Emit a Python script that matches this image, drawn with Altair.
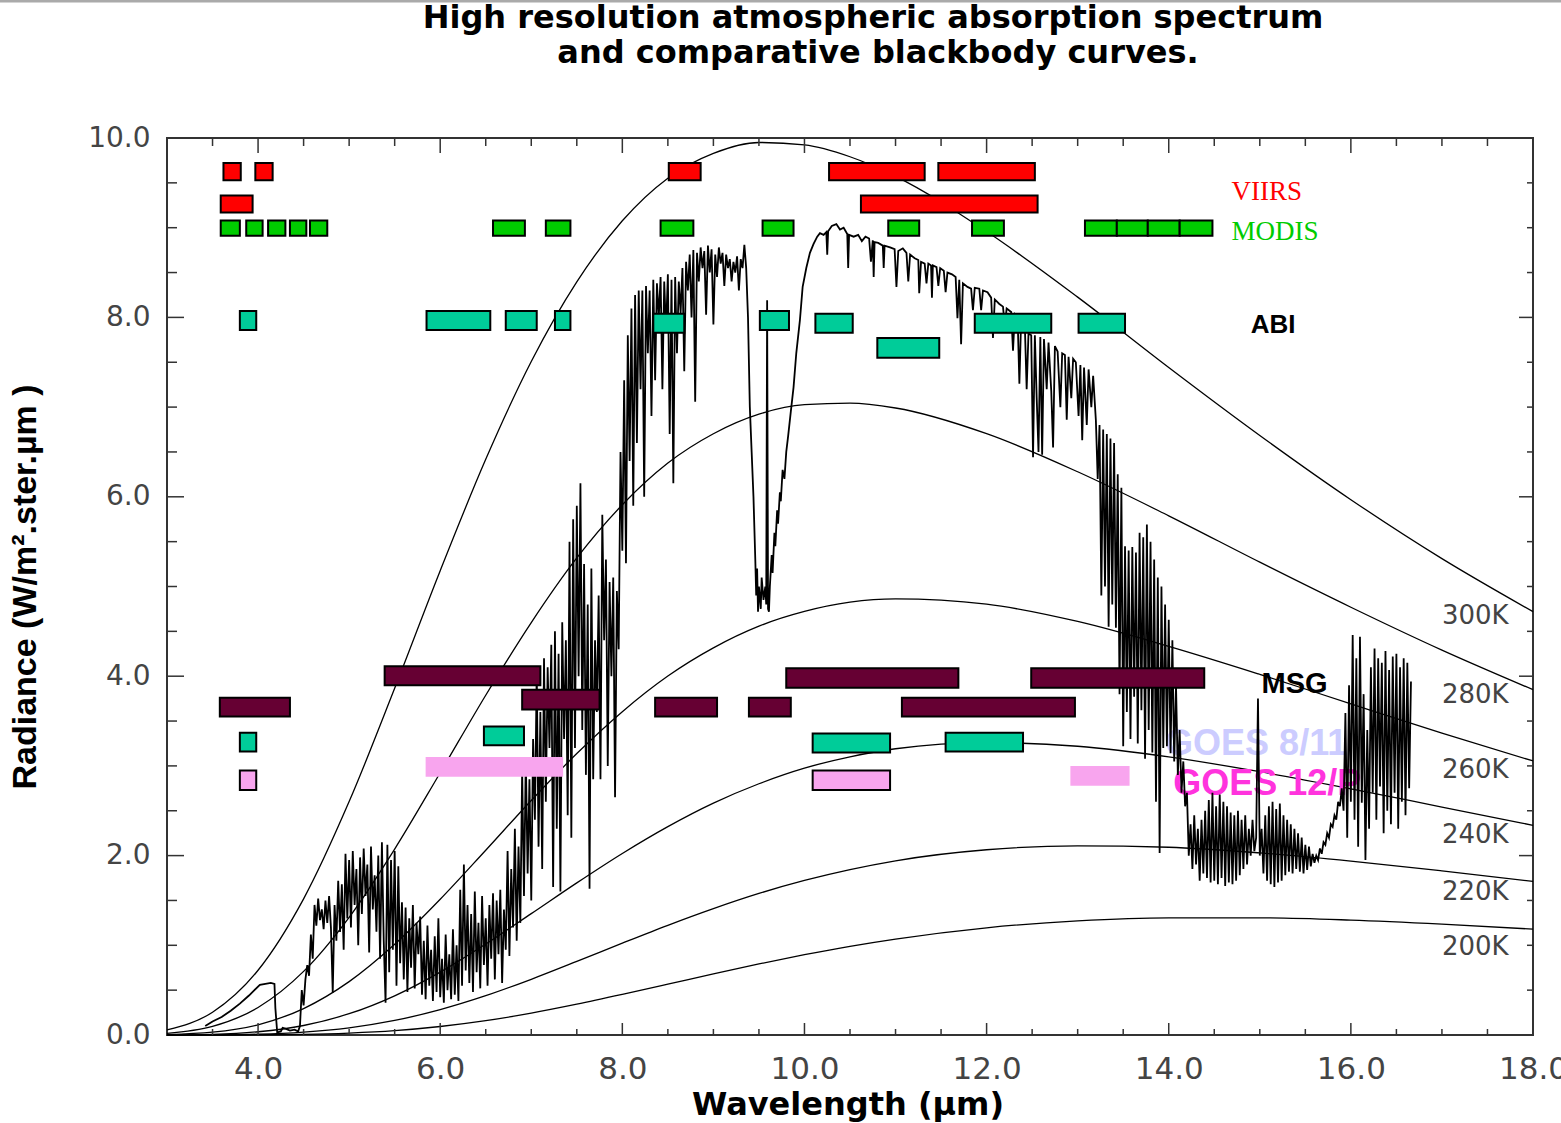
import altair as alt
import pandas as pd

# ---------------- blackbody radiance curves (W / m^2 / sr / um) ----------------
BB_WL = [3.0, 3.5, 4.0, 4.5, 5.0, 5.5, 6.0, 6.5, 7.0, 7.5, 8.0, 8.5, 9.0, 9.5,
         10.0, 10.5, 11.0, 12.0, 13.0, 14.0, 15.0, 16.0, 17.0, 18.0]
BB_300 = [0.056, 0.254, 0.722, 1.518, 2.602, 3.865, 5.176, 6.418, 7.508, 8.396, 9.077, 9.552,
          9.829, 9.950, 9.923, 9.791, 9.572, 8.957, 8.226, 7.442, 6.684, 5.968, 5.311, 4.720]
BB_280 = [0.018, 0.095, 0.307, 0.709, 1.312, 2.073, 2.924, 3.788, 4.598, 5.318, 5.911, 6.376,
          6.703, 6.921, 7.027, 7.044, 6.990, 6.704, 6.279, 5.788, 5.271, 4.769, 4.291, 3.850]
BB_260 = [0.005, 0.031, 0.114, 0.295, 0.595, 1.011, 1.513, 2.060, 2.615, 3.138, 3.605, 4.002,
          4.316, 4.558, 4.722, 4.825, 4.862, 4.803, 4.610, 4.333, 4.021, 3.692, 3.366, 3.055]
BB_240 = [0.001, 0.008, 0.036, 0.106, 0.237, 0.437, 0.701, 1.014, 1.353, 1.696, 2.024, 2.323,
          2.585, 2.801, 2.975, 3.101, 3.191, 3.260, 3.219, 3.101, 2.935, 2.745, 2.541, 2.338]
BB_220 = [0.000, 0.002, 0.009, 0.032, 0.080, 0.162, 0.283, 0.438, 0.621, 0.820, 1.024, 1.223,
          1.409, 1.578, 1.723, 1.844, 1.942, 2.065, 2.109, 2.093, 2.030, 1.939, 1.830, 1.712]
BB_200 = [0.000, 0.000, 0.002, 0.007, 0.022, 0.049, 0.095, 0.160, 0.244, 0.343, 0.452, 0.566,
          0.682, 0.792, 0.895, 0.989, 1.070, 1.195, 1.272, 1.306, 1.306, 1.281, 1.236, 1.180]
BB_CURVES = {"300K": BB_300, "280K": BB_280, "260K": BB_260,
             "240K": BB_240, "220K": BB_220, "200K": BB_200}

# labels at the right-hand end of each curve (wavelength, radiance of baseline)
TEMP_LABELS = ["300K", "280K", "260K", "240K", "220K", "200K"]
TEMP_LABEL_Y = [4.58, 3.70, 2.87, 2.14, 1.51, 0.89]
TEMP_LABEL_X = 17.0

# ---------------- high resolution atmospheric spectrum ----------------
# shortwave end: 4.3 um band shoulder and CO2 gap, (wavelength, radiance)
SHORTWAVE = [(3.42, 0.10), (3.50, 0.15), (3.60, 0.20), (3.70, 0.27), (3.80, 0.35), (3.90, 0.44),
             (3.96, 0.50), (4.02, 0.56), (4.08, 0.57), (4.14, 0.58), (4.18, 0.57), (4.19, 0.30),
             (4.21, 0.03), (4.25, 0.04), (4.27, 0.08), (4.30, 0.07), (4.35, 0.05), (4.40, 0.06),
             (4.44, 0.04), (4.46, 0.10), (4.48, 0.50), (4.50, 0.33), (4.52, 0.62), (4.54, 0.78),
             (4.56, 0.66), (4.58, 1.12), (4.60, 0.85)]

GRID_STEP = 0.02
# water vapour band, sampled every 0.02 um from 4.62 um to 9.34 um
GRID_A_START = 4.62
GRID_A_RAD = [
    1.45, 1.22, 1.52, 1.28, 1.40,  1.18, 1.50, 1.25, 1.55, 1.20,
    0.47, 1.45, 1.05, 1.72, 1.15,  1.68, 0.95, 2.02, 1.30, 1.95,
    1.20, 2.05, 1.45, 1.85, 1.00,  1.98, 1.35, 2.08, 1.55, 1.90,
    0.92, 2.10, 1.40, 1.78, 1.15,  2.00, 0.85, 2.15, 1.05, 0.36,
    2.12, 0.70, 1.95, 0.95, 2.05,  0.55, 1.88, 0.80, 1.48, 0.62,
    1.42, 0.48, 1.30, 0.75, 1.45,  0.52, 1.25, 0.90, 1.32, 0.45,
    1.05, 0.40, 1.22, 0.55, 0.95,  0.38, 1.10, 0.48, 1.30, 0.42,
    0.85, 0.36, 1.12, 0.50, 0.90,  0.40, 1.18, 0.45, 1.00, 0.38,
    1.62, 0.55, 1.90, 0.72, 1.45,  0.58, 1.35, 0.48, 1.60, 0.70,
    1.25, 0.52, 1.55, 0.78, 1.30,  0.55, 1.45, 0.85, 1.58, 0.62,
    1.50, 0.90, 1.62, 0.58, 1.40,  0.95, 2.05, 0.88, 1.85, 1.20,
    2.30, 1.05, 2.10, 1.25, 2.95,  1.55, 3.10, 1.80, 2.85, 1.50,
    3.30, 2.40, 4.05, 2.10, 3.60,  1.85, 4.20, 2.60, 4.10, 3.20,
    4.35, 1.65, 4.50, 2.30, 4.25,  1.60, 4.60, 3.30, 4.40, 2.45,
    5.50, 2.20, 5.75, 3.20, 5.90,  4.00, 6.15, 3.40, 5.25, 2.90,
    4.80, 1.63, 5.20, 2.85, 4.40,  3.60, 4.90, 2.85, 5.80, 4.40,
    5.30, 3.00, 5.05, 4.00, 5.10,  2.65, 4.95, 4.30, 6.50, 5.40,
    7.30, 5.26, 7.80, 6.40, 8.10,  5.90, 8.25, 6.60, 8.30, 7.20,
    8.30, 6.00, 8.35, 7.60, 8.30,  6.90, 8.42, 7.30, 8.38, 8.00,
    8.45, 7.20, 8.40, 7.85, 8.48,  6.70, 8.42, 6.15, 8.45, 7.60,
    8.40, 8.05, 8.55, 7.40, 8.62,  8.30, 8.70, 8.00, 8.75, 7.06,
    8.72, 8.40, 8.78, 8.55, 8.74,  8.03, 8.80, 8.50, 8.76, 7.92,
    8.70, 8.45, 8.78, 8.60, 8.72,  8.35, 8.70, 8.55, 8.65, 8.40,
    8.62, 8.50, 8.68, 8.30, 8.65,  8.55, 8.81,
]

# ozone band around 9.6 um
OZONE = [(9.36, 8.55), (9.38, 8.00), (9.40, 7.00), (9.42, 6.50), (9.44, 6.00), (9.46, 5.30),
         (9.47, 4.90), (9.48, 5.20), (9.49, 4.72), (9.50, 5.00), (9.52, 4.75), (9.53, 5.10),
         (9.55, 4.85), (9.57, 5.00), (9.58, 4.80), (9.59, 8.19), (9.60, 4.75), (9.61, 4.72),
         (9.62, 5.00), (9.64, 5.35), (9.65, 5.15), (9.67, 5.60), (9.68, 5.45), (9.70, 5.85),
         (9.71, 5.70), (9.73, 6.05), (9.74, 5.95), (9.76, 6.30), (9.78, 6.20), (9.80, 6.50),
         (9.82, 6.67), (9.85, 6.95), (9.88, 7.22), (9.91, 7.60), (9.95, 7.97), (9.98, 8.34),
         (10.02, 8.55), (10.06, 8.72)]

# infrared window, 10 - 13 um
WINDOW = [(10.10, 8.82), (10.14, 8.90), (10.17, 8.94), (10.21, 8.92), (10.24, 8.95), (10.25, 8.70),
          (10.26, 8.96), (10.30, 9.02), (10.35, 9.04), (10.39, 8.98), (10.43, 9.00), (10.47, 8.93),
          (10.48, 8.55), (10.49, 8.92), (10.54, 8.90), (10.59, 8.92), (10.63, 8.85), (10.67, 8.90),
          (10.71, 8.88), (10.73, 8.62), (10.75, 8.86), (10.76, 8.45), (10.77, 8.84), (10.81, 8.83),
          (10.86, 8.80), (10.87, 8.55), (10.88, 8.80), (10.94, 8.78), (10.99, 8.76), (11.01, 8.34),
          (11.03, 8.74), (11.08, 8.77), (11.12, 8.72), (11.14, 8.40), (11.16, 8.70), (11.21, 8.66),
          (11.25, 8.64), (11.26, 8.27), (11.28, 8.62), (11.32, 8.60), (11.34, 8.38), (11.36, 8.60),
          (11.39, 8.58), (11.40, 8.22), (11.41, 8.58), (11.45, 8.56), (11.47, 8.35), (11.49, 8.55),
          (11.53, 8.52), (11.55, 8.28), (11.57, 8.50), (11.62, 8.48), (11.66, 8.45), (11.68, 7.99),
          (11.70, 8.42), (11.72, 7.70), (11.74, 8.38), (11.79, 8.34), (11.83, 8.32), (11.85, 8.08),
          (11.87, 8.33), (11.92, 8.32), (11.94, 8.08), (11.96, 8.30), (12.01, 8.28), (12.05, 8.22),
          (12.07, 7.77), (12.09, 8.20), (12.14, 8.15), (12.18, 8.12), (12.20, 7.90), (12.22, 8.10),
          (12.27, 8.06), (12.29, 7.63), (12.31, 8.04), (12.34, 8.02), (12.36, 7.26), (12.38, 8.00),
          (12.42, 7.90), (12.44, 7.20), (12.46, 7.82), (12.49, 7.80), (12.51, 6.44), (12.53, 7.80),
          (12.55, 7.10), (12.57, 6.50), (12.59, 7.78), (12.61, 6.47), (12.63, 7.76), (12.66, 7.20),
          (12.68, 7.72), (12.71, 7.18), (12.73, 6.55), (12.75, 7.68), (12.78, 7.62), (12.81, 7.00),
          (12.83, 7.60), (12.86, 7.58), (12.88, 6.86), (12.90, 7.56), (12.93, 7.10), (12.95, 7.54),
          (12.98, 7.50), (13.01, 6.90), (13.03, 7.47), (13.05, 6.63), (13.07, 7.44), (13.10, 6.80),
          (13.12, 7.42), (13.15, 7.00), (13.17, 7.35)]

# CO2 band, sampled every 0.02 um from 13.20 um to 16.66 um
GRID_B_START = 13.20
GRID_B_RAD = [
    6.85, 6.20, 6.80, 4.90, 6.75,  5.00, 6.70, 4.55, 6.65, 4.80,
    6.60, 4.54, 6.25, 3.80, 6.10,  3.22, 5.45, 3.60, 5.40, 3.30,
    5.44, 3.77, 5.38, 3.25, 5.60,  3.62, 5.55, 3.08, 5.69, 3.40,
    5.50, 3.15, 5.30, 2.60, 5.10,  2.03, 5.00, 3.20, 4.80, 3.22,
    4.63, 3.14, 4.40, 3.05, 3.90,  2.90, 3.40, 2.70, 3.05, 2.55,
    2.70,
    2.00, 2.35, 1.85, 2.45, 1.90,  2.30, 1.72, 2.40, 1.80, 2.50,
    1.75, 2.62, 1.70, 2.70, 1.72,  2.55, 1.68, 2.68, 1.75, 2.60,
    1.66, 2.55, 1.70, 2.48, 1.68,  2.45, 1.72, 2.50, 1.78, 2.40,
    1.85, 2.45, 1.90, 2.30, 2.00,  2.40, 2.05, 2.20, 3.75, 2.00,
    2.30, 1.80, 2.45, 1.72, 2.55,  1.68, 2.60, 1.65, 2.52, 1.70,
    2.58, 1.72, 2.45, 1.78, 2.40,  1.82, 2.35, 1.80, 2.30, 1.85,
    2.25, 1.82, 2.20, 1.80, 2.12,  1.84, 2.10, 1.88, 2.02, 1.92,
    2.00, 1.95, 2.08, 2.02, 2.15,  2.12, 2.25, 2.20, 2.35, 2.32,
    2.45, 2.40, 2.60, 2.55, 2.75,
    2.50, 3.59, 2.20, 3.90, 2.60,  4.46, 2.40, 4.20, 2.10, 4.44,
    2.59, 3.80, 1.95, 3.40, 2.30,  4.10, 2.70, 4.31, 2.40, 4.20,
    2.77, 4.15, 2.25, 4.28, 2.50,  4.07, 2.35, 4.22, 2.70, 4.25,
    2.30, 4.10, 2.60, 4.20, 2.45,  4.15, 2.75, 3.94,
]

# ---------------- instrument bands: (from um, to um, low, high) ----------------
VIIRS_BANDS = [(3.62, 3.81, 9.53, 9.72), (3.97, 4.16, 9.53, 9.72), (8.51, 8.86, 9.53, 9.72),
               (10.27, 11.32, 9.53, 9.72), (11.47, 12.53, 9.53, 9.72),
               (3.59, 3.94, 9.17, 9.36), (10.62, 12.56, 9.17, 9.36)]
MODIS_BANDS = [(3.59, 3.80, 8.91, 9.08), (3.87, 4.05, 8.91, 9.08), (4.11, 4.30, 8.91, 9.08),
               (4.35, 4.53, 8.91, 9.08), (4.57, 4.76, 8.91, 9.08), (6.58, 6.93, 8.91, 9.08),
               (7.16, 7.43, 8.91, 9.08), (8.42, 8.78, 8.91, 9.08), (9.54, 9.88, 8.91, 9.08),
               (10.92, 11.26, 8.91, 9.08), (11.84, 12.19, 8.91, 9.08), (13.08, 13.43, 8.91, 9.08),
               (13.43, 13.77, 8.91, 9.08), (13.77, 14.12, 8.91, 9.08), (14.12, 14.48, 8.91, 9.08)]
ABI_BANDS = [(3.80, 3.98, 7.86, 8.07), (5.85, 6.55, 7.86, 8.07), (6.72, 7.06, 7.86, 8.07),
             (7.26, 7.43, 7.86, 8.07), (8.34, 8.68, 7.83, 8.04), (9.51, 9.83, 7.86, 8.07),
             (10.12, 10.53, 7.83, 8.04), (11.87, 12.71, 7.83, 8.04), (13.01, 13.52, 7.83, 8.04),
             (10.80, 11.48, 7.55, 7.77)]
MSG_BANDS = [(5.39, 7.10, 3.90, 4.11), (6.90, 7.75, 3.63, 3.85), (3.58, 4.35, 3.55, 3.76),
             (8.36, 9.04, 3.55, 3.76), (9.39, 9.85, 3.55, 3.76), (9.80, 11.69, 3.87, 4.09),
             (11.07, 12.97, 3.55, 3.76), (12.49, 14.39, 3.87, 4.09)]
GOES811_BANDS = [(3.80, 3.98, 3.16, 3.37), (6.48, 6.92, 3.23, 3.44),
                 (10.09, 10.94, 3.15, 3.36), (11.55, 12.40, 3.16, 3.37)]
GOES12P_OUTLINED = [(3.80, 3.98, 2.73, 2.95), (10.09, 10.94, 2.73, 2.95)]
GOES12P_PLAIN = [(5.84, 7.35, 2.88, 3.10), (12.92, 13.57, 2.78, 3.00)]

COLORS = {"VIIRS": "#ff0000", "MODIS": "#00cc00", "ABI": "#00cc99", "MSG": "#660033",
          "GOES811": "#00cc99", "GOES12P": "#f8a5ee"}

# ---------------- geometry of the plot frame ----------------
W, H = 1366, 897
FRAME = "#333333"

xs = alt.Scale(domain=[3, 18], nice=False, zero=False)
ys = alt.Scale(domain=[0, 10], nice=False, zero=False)
x_axis = alt.Axis(values=[4, 6, 8, 10, 12, 14, 16, 18], format=".1f", ticks=False, domain=False,
                  grid=False, labelFont="DejaVu Sans", labelFontSize=31, labelColor="#444444",
                  labelPadding=19, labelFlush=False, labelOverlap=False, title=None)
y_axis = alt.Axis(values=[0, 2, 4, 6, 8, 10], format=".1f", ticks=False, domain=False,
                  grid=False, labelFont="DejaVu Sans", labelFontSize=28, labelColor="#444444",
                  labelPadding=17, labelFlush=False, labelOverlap=False, title=None)


def X(field):
    return alt.X(field, type="quantitative", scale=xs, axis=x_axis)


def Y(field):
    return alt.Y(field, type="quantitative", scale=ys, axis=y_axis)


def grid(start, values):
    return [round(start + i * GRID_STEP, 2) for i in range(len(values))]


# ---------------- tables ----------------
curves = pd.DataFrame(
    [{"temp": t, "wl": w, "rad": r} for t, vals in BB_CURVES.items() for w, r in zip(BB_WL, vals)]
)

sw_wl, sw_rad = zip(*SHORTWAVE)
oz_wl, oz_rad = zip(*OZONE)
win_wl, win_rad = zip(*WINDOW)
spectrum = pd.DataFrame({
    "wl": list(sw_wl) + grid(GRID_A_START, GRID_A_RAD) + list(oz_wl) + list(win_wl)
          + grid(GRID_B_START, GRID_B_RAD),
    "rad": list(sw_rad) + GRID_A_RAD + list(oz_rad) + list(win_rad) + GRID_B_RAD,
})

band_rows = []
for name, bands, outline in [("VIIRS", VIIRS_BANDS, 2), ("MODIS", MODIS_BANDS, 2),
                             ("ABI", ABI_BANDS, 2), ("MSG", MSG_BANDS, 2),
                             ("GOES811", GOES811_BANDS, 2), ("GOES12P", GOES12P_OUTLINED, 2),
                             ("GOES12P", GOES12P_PLAIN, 0)]:
    for x1, x2, y1, y2 in bands:
        band_rows.append({"x1": x1, "x2": x2, "y1": y1, "y2": y2,
                          "fill": COLORS[name], "sw": outline})
bands_df = pd.DataFrame(band_rows)

temp_df = pd.DataFrame({"label": TEMP_LABELS, "x": TEMP_LABEL_X, "y": TEMP_LABEL_Y})
one = pd.DataFrame({"k": [0]})

# ---------------- layers ----------------
top_line = alt.Chart(one).mark_rule(color="#aaaaaa", strokeWidth=3).encode(
    x=alt.value(-167), x2=alt.value(W + 28), y=alt.value(-137))

bb_layer = alt.Chart(curves).mark_line(color="black", strokeWidth=1.3, interpolate="monotone").encode(
    x=X("wl"), y=Y("rad"), detail="temp:N")


def label(text, x, y, color, size, font="Liberation Sans", weight="bold"):
    df = pd.DataFrame({"t": [text], "x": [x], "y": [y]})
    return alt.Chart(df).mark_text(align="left", baseline="alphabetic", font=font,
                                   fontWeight=weight, fontSize=size, color=color).encode(
        x=X("x"), y=Y("y"), text="t:N")


goes811_lbl = label("GOES 8/11", 13.96, 3.12, "#ccccff", 36)
goes12p_lbl = label("GOES 12/P", 14.05, 2.68, "#ff33dd", 36)

spec_layer = alt.Chart(spectrum).mark_line(color="black", strokeWidth=1.8).encode(
    x=X("wl"), y=Y("rad"))

bands_layer = alt.Chart(bands_df).mark_rect(stroke="black").encode(
    x=X("x1"), x2="x2", y=Y("y1"), y2="y2",
    fill=alt.Fill("fill:N", scale=None),
    strokeWidth=alt.StrokeWidth("sw:Q", scale=None))

viirs_lbl = label("VIIRS", 14.69, 9.31, "#ff0000", 27, font="Liberation Serif", weight="normal")
modis_lbl = label("MODIS", 14.69, 8.86, "#00cc00", 27, font="Liberation Serif", weight="normal")
abi_lbl = label("ABI", 14.90, 7.83, "black", 26)
msg_lbl = label("MSG", 15.02, 3.81, "black", 29)

temp_layer = alt.Chart(temp_df).mark_text(align="left", baseline="alphabetic", font="DejaVu Sans",
                                          fontSize=26, color="#444444").encode(
    x=X("x"), y=Y("y"), text="label:N")

# inward tick marks on all four sides of the frame
MAJOR_X = [4, 6, 8, 10, 12, 14, 16]
MINOR_X = [h / 2 for h in range(7, 36) if (h / 2) not in MAJOR_X]
MAJOR_Y = [2, 4, 6, 8]
MINOR_Y = [h / 2 for h in range(1, 20) if (h / 2) not in MAJOR_Y]


def xticks(vals, y0, y1):
    return alt.Chart(pd.DataFrame({"v": vals})).mark_rule(color=FRAME, strokeWidth=1.5).encode(
        x=X("v"), y=alt.value(y0), y2=alt.value(y1))


def yticks(vals, x0, x1):
    return alt.Chart(pd.DataFrame({"v": vals})).mark_rule(color=FRAME, strokeWidth=1.5).encode(
        y=Y("v"), x=alt.value(x0), x2=alt.value(x1))


ticks = [
    xticks(MINOR_X, H, H - 6), xticks(MAJOR_X, H, H - 12),
    xticks(MINOR_X, 0, 8), xticks(MAJOR_X, 0, 15),
    yticks(MINOR_Y, 0, 10), yticks(MAJOR_Y, 0, 17),
    yticks(MINOR_Y, W, W - 6), yticks(MAJOR_Y, W, W - 14),
]


def free_text(text, x, y, size, font, weight="bold", angle=0, color="black"):
    kw = dict(align="center", baseline="alphabetic", font=font, fontWeight=weight,
              fontSize=size, color=color)
    if angle:
        kw["angle"] = angle
    return alt.Chart(pd.DataFrame({"t": [text]})).mark_text(**kw).encode(
        x=alt.value(x), y=alt.value(y), text="t:N")


title1 = free_text("High resolution atmospheric absorption spectrum", 706, -110, 32, "DejaVu Sans")
title2 = free_text("and comparative blackbody curves.", 711, -75, 32, "DejaVu Sans")
x_title = free_text("Wavelength (µm)", 681, 977, 32, "DejaVu Sans")
y_title = free_text("Radiance (W/m².ster.µm )", -131, 449, 34, "Liberation Sans", angle=270)

chart = alt.layer(
    top_line, bb_layer, goes811_lbl, goes12p_lbl, spec_layer, bands_layer,
    viirs_lbl, modis_lbl, abi_lbl, msg_lbl, temp_layer, *ticks,
    title1, title2, x_title, y_title,
).properties(
    width=W, height=H,
    autosize=alt.AutoSizeParams(type="none"),
    padding={"left": 167, "top": 138, "right": 28, "bottom": 88},
).configure_view(stroke=FRAME, strokeWidth=2)

chart.save("out.html", embed_options={"renderer": "svg", "actions": False})
